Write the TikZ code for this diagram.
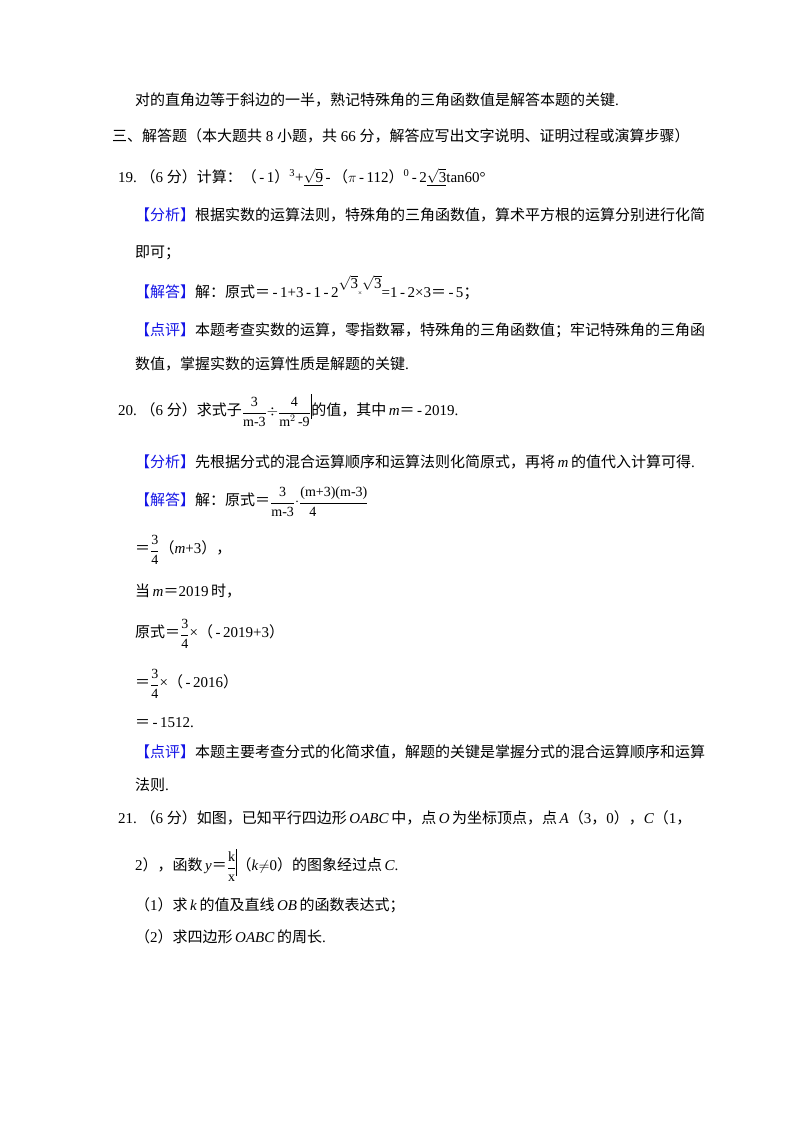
\documentclass[tikz,border=0pt]{standalone}
\usepackage{fontspec}
\setmainfont{Liberation Serif}
\newfontfamily\cjk{Noto Sans CJK SC}
\newcommand{\C}[1]{{\cjk #1}}
\newcommand{\B}[1]{{\color{tagblue}\cjk 【#1】}}
\definecolor{tagblue}{RGB}{20,20,230}
\newcommand{\fr}[2]{\raisebox{-0.2ex}{$\displaystyle\frac{\mbox{\fontsize{14}{14}\selectfont #1}}{\mbox{\fontsize{14}{14}\selectfont #2}}$}}
\begin{document}
\begin{tikzpicture}[x=1pt,y=-1pt,
  ln/.style={anchor=base west,inner sep=0pt,font=\fontsize{15}{18}\selectfont}]
\useasboundingbox (0,0) rectangle (800,1132);
\fill[white] (0,0) rectangle (800,1132);
\node[ln] (l1) at (135,105) {\C{对的直角边等于斜边的一半，熟记特殊角的三角函数值是解答本题的关键}.};
\node[ln] (l2) at (112,141) {\C{三、解答题（本大题共} 8 \C{小题，共} 66 \C{分，解答应写出文字说明、证明过程或演算步骤）}};
\node[ln] (l3) at (118,182) {19.\ \C{（}6 \C{分）计算：（}\,-\,1\C{）}\textsuperscript{3}+\underline{$\sqrt{\mbox{9}}$}\,-\,\C{（}$\pi$\,-\,112\C{）}\textsuperscript{0}\,-\,2\underline{$\sqrt{\mbox{3}}$}tan60°};
\node[ln] (l4) at (135,220) {\B{分析}\C{根据实数的运算法则，特殊角的三角函数值，算术平方根的运算分别进行化简}};
\node[ln] (l5) at (135,257) {\C{即可；}};
\node[ln] (l6) at (135,297) {\B{解答}\C{解：原式＝}\,-\,1+3\,-\,1\,-\,2\raisebox{1.2ex}{$\sqrt{\mbox{3}}$}\raisebox{0.2ex}{\scriptsize×}\raisebox{1.2ex}{$\sqrt{\mbox{3}}$}=1\,-\,2×3\C{＝}\,-\,5\C{；}};
\node[ln] (l7) at (135,335) {\B{点评}\C{本题考查实数的运算，零指数幂，特殊角的三角函数值；牢记特殊角的三角函}};
\node[ln] (l8) at (135,369) {\C{数值，掌握实数的运算性质是解题的关键}.};
\node[ln] (l9) at (118,415) {20.\ \C{（}6 \C{分）求式子}\fr{3}{m-3}$\div$\fr{4}{m$^2$\,-9}\rule[-0.6ex]{0.4pt}{3.6ex}\C{的值，其中}\,\textit{m}\C{＝}\,-\,2019.};
\node[ln] (l10) at (135,467) {\B{分析}\C{先根据分式的混合运算顺序和运算法则化简原式，再将}\,\textit{m}\,\C{的值代入计算可得}.};
\node[ln] (l11) at (135,505) {\B{解答}\C{解：原式＝}\fr{3}{m-3}$\cdot$\fr{(m+3)(m-3)}{4\hspace{3em}}};
\node[ln] (l12) at (135,553) {\C{＝}\fr{3}{4}\C{（}\textit{m}+3\C{），}};
\node[ln] (l13) at (135,596) {\C{当}\,\textit{m}\C{＝}2019\,\C{时，}};
\node[ln] (l14) at (135,637) {\C{原式＝}\fr{3}{4}×\C{（}\,-\,2019+3\C{）}};
\node[ln] (l15) at (135,687) {\C{＝}\fr{3}{4}×\C{（}\,-\,2016\C{）}};
\node[ln] (l16) at (135,727) {\C{＝}\,-\,1512.};
\node[ln] (l17) at (135,757) {\B{点评}\C{本题主要考查分式的化简求值，解题的关键是掌握分式的混合运算顺序和运算}};
\node[ln] (l18) at (135,790) {\C{法则}.};
\node[ln] (l19) at (118,823) {21.\ \C{（}6 \C{分）如图，已知平行四边形}\,\textit{OABC}\,\C{中，点}\,\textit{O}\,\C{为坐标顶点，点}\,\textit{A}\C{（}3\C{，}0\C{），}\textit{C}\C{（}1\C{，}};
\node[ln] (l20) at (135,870) {2\C{），函数}\,\textit{y}\C{＝}\fr{k}{x}\rule[-0.8ex]{0.4pt}{3.8ex}\C{（}\textit{k}$\neq$0\C{）的图象经过点}\,\textit{C}.};
\node[ln] (l21) at (135,910) {\C{（}1\C{）求}\,\textit{k}\,\C{的值及直线}\,\textit{OB}\,\C{的函数表达式；}};
\node[ln] (l22) at (135,942) {\C{（}2\C{）求四边形}\,\textit{OABC}\,\C{的周长}.};
\end{tikzpicture}
\end{document}
